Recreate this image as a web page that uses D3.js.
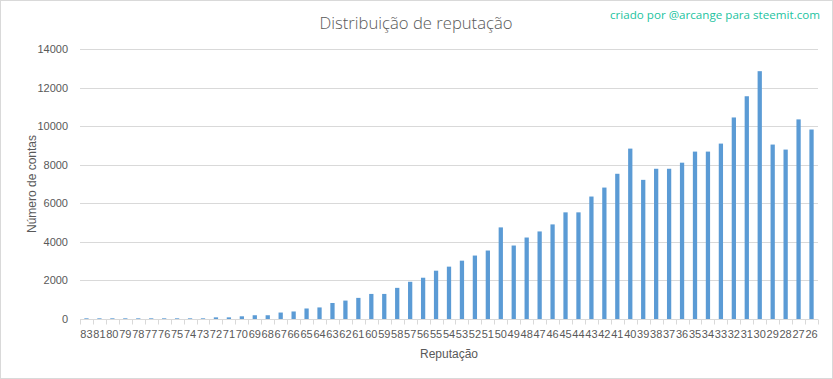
<!DOCTYPE html>
<html>
<head>
<meta charset="utf-8">
<script src="https://cdn.jsdelivr.net/npm/d3@7"></script>
<style>
  html, body { margin: 0; padding: 0; background: #fff; }
  svg { display: block; }
</style>
</head>
<body>
<svg id="chart" width="833" height="379"></svg>
<script>
const categories = ["83","81","80","79","78","77","76","75","74","73","72","71","70","69","68","67","66","65","64","63","62","61","60","59","58","57","56","55","54","53","52","51","50","49","48","47","46","45","44","43","42","41","40","39","38","37","36","35","34","33","32","31","30","29","28","27","26"];
const values = [35,35,35,35,35,35,35,35,35,35,85,85,140,195,195,335,390,545,600,830,955,1095,1300,1300,1615,1930,2140,2505,2715,3025,3290,3550,4750,3810,4225,4540,4905,5530,5530,6350,6815,7530,8835,7215,7790,7790,8105,8680,8680,9095,10450,11550,12850,9045,8785,10350,9825];
const yTicks = [0,2000,4000,6000,8000,10000,12000,14000];
const title = "Distribuição de reputação";
const credit = "criado por @arcange para steemit.com";
const xTitle = "Reputação";
const yTitle = "Número de contas";

const W = 833, H = 379;
const m = {left: 80, right: 15, top: 49, bottom: 60};
const svg = d3.select("#chart");
const font = "'Liberation Sans', Arial, sans-serif";

svg.append("rect").attr("x",0.5).attr("y",0.5).attr("width",W-1).attr("height",H-1)
  .attr("fill","#fff").attr("stroke","#d9d9d9");

const x = d3.scaleBand().domain(categories).range([m.left, W - m.right]).paddingInner(0.67).paddingOuter(0.335);
const y = d3.scaleLinear().domain([0, 14000]).range([H - m.bottom + 0, m.top]);

// gridlines
svg.append("g").selectAll("line").data(yTicks.filter(d => d > 0)).join("line")
  .attr("x1", m.left).attr("x2", W - m.right)
  .attr("y1", d => Math.round(y(d)) + 0.5).attr("y2", d => Math.round(y(d)) + 0.5)
  .attr("stroke", "#d9d9d9").attr("stroke-width", 1);

// y axis labels
const yAxis = d3.axisLeft(y).tickValues(yTicks).tickSize(0).tickPadding(12).tickFormat(d3.format("d"));
const gy = svg.append("g").attr("transform", `translate(${m.left},0)`).call(yAxis);
gy.select(".domain").remove();
gy.selectAll("text").attr("fill", "#595959").style("font-family", font).style("font-size", "11px");

// bars
svg.append("g").selectAll("rect").data(values).join("rect")
  .attr("x", (d, i) => x(categories[i]))
  .attr("width", x.bandwidth())
  .attr("y", d => y(d))
  .attr("height", d => y(0) - y(d))
  .attr("fill", "#5b9bd5");

// x axis
const step = x.step();
const gx = svg.append("g").attr("transform", `translate(0,${Math.round(y(0)) + 0.5})`);
gx.append("line").attr("x1", m.left).attr("x2", W - m.right).attr("stroke", "#d9d9d9");
const bounds = d3.range(categories.length + 1).map(i => m.left + i * (W - m.right - m.left) / categories.length);
gx.selectAll("line.tick").data(bounds).join("line").attr("class","tick")
  .attr("x1", d => Math.round(d) + 0.5).attr("x2", d => Math.round(d) + 0.5)
  .attr("y1", 0).attr("y2", 5).attr("stroke", "#d9d9d9");
const xAxis = d3.axisBottom(x).tickSize(0).tickPadding(11);
const gxl = svg.append("g").attr("transform", `translate(0,${y(0)})`).call(xAxis);
gxl.select(".domain").remove();
gxl.selectAll("text").attr("fill", "#595959").style("font-family", font).style("font-size", "11px");

// titles
svg.append("text").attr("x", 416).attr("y", 29).attr("text-anchor", "middle")
  .attr("fill", "#595959").style("font-family", "'Open Sans', sans-serif").style("font-weight", 300)
  .style("font-size", "17px").attr("textLength", 193).attr("lengthAdjust", "spacingAndGlyphs").text(title);

svg.append("text").attr("x", 820).attr("y", 19).attr("text-anchor", "end")
  .attr("fill", "#22c3a0").style("font-family", "'Open Sans', sans-serif")
  .style("font-size", "11.5px").attr("textLength", 210).attr("lengthAdjust", "spacingAndGlyphs").text(credit);

svg.append("text").attr("x", (m.left + W - m.right) / 2).attr("y", 358).attr("text-anchor", "middle")
  .attr("fill", "#595959").style("font-family", font).style("font-size", "12px").text(xTitle);

svg.append("text").attr("transform", `translate(36,${(y(0) + y(14000)) / 2}) rotate(-90)`).attr("text-anchor", "middle")
  .attr("fill", "#595959").style("font-family", font).style("font-size", "12px").text(yTitle);
</script>
</body>
</html>
